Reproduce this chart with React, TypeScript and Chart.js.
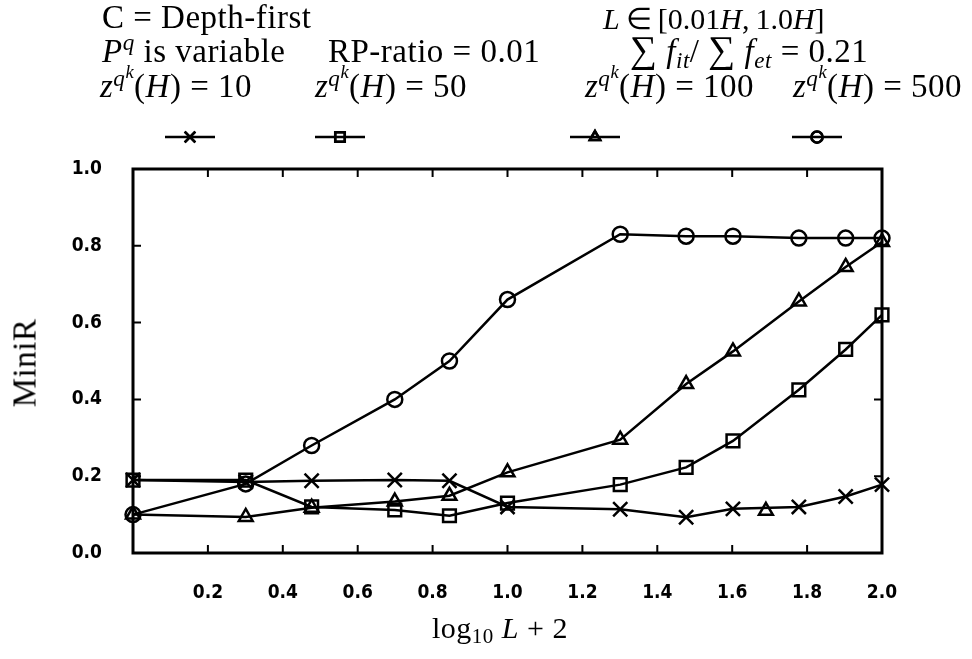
import React, { useEffect, useRef } from 'react';
import { Chart, registerables } from 'chart.js';
import { drawPoint } from 'chart.js/helpers';

Chart.register(...registerables);

// x positions: log10(L) + 2 for L = 0.01H ... 1.0H
const logL = [0, 0.301, 0.477, 0.699, 0.845, 1.0, 1.301, 1.477, 1.602, 1.778, 1.903, 2.0];

// MiniR for each z^{q^k}(H) setting
const miniR10 = [0.19, 0.185, 0.188, 0.19, 0.188, 0.12, 0.114, 0.093, 0.115, 0.12, 0.147, 0.178];
const miniR50 = [0.19, 0.19, 0.12, 0.112, 0.097, 0.13, 0.178, 0.223, 0.292, 0.425, 0.53, 0.62];
const miniR100 = [0.1, 0.094, 0.118, 0.134, 0.149, 0.21, 0.295, 0.44, 0.525, 0.655, 0.745, 0.81];
const miniR500 = [0.1, 0.18, 0.28, 0.4, 0.5, 0.66, 0.83, 0.825, 0.825, 0.82, 0.82, 0.82];

// lone triangle mark sitting on the z = 10 curve
const strayX = [1.69];
const strayY = [0.11];

const yTicks = [0, 0.2, 0.4, 0.6, 0.8, 1.0];
const xTicks = [0.2, 0.4, 0.6, 0.8, 1.0, 1.2, 1.4, 1.6, 1.8, 2.0];

const pts = (xs: number[], ys: number[]) => xs.map((x, i) => ({ x, y: ys[i] }));

const markerSpecs = [
  { style: 'crossRot', radius: 10 },
  { style: 'rect', radius: 9 },
  { style: 'triangle', radius: 8 },
  { style: 'circle', radius: 7.5 },
];

// legend sample positions (canvas px)
const legendX = [190, 340, 595, 817];
const legendY = 137;
const legendHalf = 25;

const tickFont = '"Liberation Sans Narrow", "DejaVu Sans Condensed", "DejaVu Sans", sans-serif';

const framePlugin = {
  id: 'frame',
  afterDraw(chart: any) {
    const { ctx, chartArea: a, scales } = chart;
    const xs = scales.x;
    const ys = scales.y;
    ctx.save();
    ctx.strokeStyle = '#000';
    ctx.lineWidth = 3;
    ctx.strokeRect(a.left, a.top, a.right - a.left, a.bottom - a.top);
    ctx.lineWidth = 2;
    const t = 8;
    ctx.beginPath();
    for (const v of xTicks) {
      if (v >= 2) continue;
      const px = xs.getPixelForValue(v);
      ctx.moveTo(px, a.bottom);
      ctx.lineTo(px, a.bottom - t);
      ctx.moveTo(px, a.top);
      ctx.lineTo(px, a.top + t);
    }
    for (const v of yTicks) {
      if (v <= 0 || v >= 1) continue;
      const py = ys.getPixelForValue(v);
      ctx.moveTo(a.left, py);
      ctx.lineTo(a.left + t, py);
      ctx.moveTo(a.right, py);
      ctx.lineTo(a.right - t, py);
    }
    ctx.stroke();

    // legend samples
    ctx.lineWidth = 2.5;
    markerSpecs.forEach((m, i) => {
      const cx = legendX[i];
      ctx.beginPath();
      ctx.moveTo(cx - legendHalf, legendY);
      ctx.lineTo(cx + legendHalf, legendY);
      ctx.stroke();
      drawPoint(ctx, { pointStyle: m.style, radius: m.radius * 0.75, rotation: 0, borderWidth: 2.5 } as any, cx, legendY);
      ctx.stroke();
    });
    ctx.restore();
  },
};

const serif = '"Liberation Serif", "Times New Roman", serif';
const headSize = 33;

function T({ x, base, size = headSize, spacing = 0.5, children }: { x: number; base: number; size?: number; spacing?: number; children: React.ReactNode }) {
  return (
    <div
      style={{
        position: 'absolute',
        left: x,
        top: base - size * 0.8375,
        fontFamily: serif,
        fontSize: size,
        letterSpacing: spacing,
        lineHeight: 1,
        whiteSpace: 'nowrap',
        color: '#000',
      }}
    >
      {children}
    </div>
  );
}

const supS: React.CSSProperties = { fontSize: '0.7em', verticalAlign: '0.5em', lineHeight: 0 };
const subS: React.CSSProperties = { fontSize: '0.7em', verticalAlign: '-0.25em', lineHeight: 0 };
const sumS: React.CSSProperties = { fontSize: '1.15em', lineHeight: 0 };

function Z({ v }: { v: string }) {
  return (
    <>
      <i>z</i>
      <sup style={supS}>
        <i>q</i>
        <sup style={{ fontSize: '0.8em', verticalAlign: '0.45em', lineHeight: 0 }}>
          <i>k</i>
        </sup>
      </sup>
      (<i>H</i>) = {v}
    </>
  );
}

export default function App() {
  const ref = useRef<HTMLCanvasElement | null>(null);

  useEffect(() => {
    if (!ref.current) return;
    const common = {
      borderColor: '#000',
      borderWidth: 2.5,
      pointBorderColor: '#000',
      pointBackgroundColor: 'rgba(0,0,0,0)',
      pointBorderWidth: 2.5,
      showLine: true,
      tension: 0,
      clip: false as any,
    };
    const chart = new Chart(ref.current, {
      type: 'scatter',
      data: {
        datasets: [
          { ...common, label: 'z(H) = 10', data: pts(logL, miniR10), pointStyle: 'crossRot', pointRadius: markerSpecs[0].radius },
          { ...common, label: 'z(H) = 50', data: pts(logL, miniR50), pointStyle: 'rect', pointRadius: markerSpecs[1].radius },
          { ...common, label: 'z(H) = 100', data: pts(logL, miniR100), pointStyle: 'triangle', pointRadius: markerSpecs[2].radius },
          { ...common, label: 'z(H) = 500', data: pts(logL, miniR500), pointStyle: 'circle', pointRadius: markerSpecs[3].radius },
          { ...common, label: 'extra', data: pts(strayX, strayY), showLine: false, pointStyle: 'triangle', pointRadius: markerSpecs[2].radius },
        ],
      },
      options: {
        animation: false,
        responsive: false,
        devicePixelRatio: 1,
        layout: { padding: { left: 0, right: 90, top: 169, bottom: 0 } },
        plugins: { legend: { display: false }, tooltip: { enabled: false } },
        scales: {
          x: {
            type: 'linear',
            min: 0,
            max: 2,
            grid: { display: false, drawTicks: false },
            border: { display: false },
            afterFit: (s: any) => {
              s.height = 106;
            },
            afterBuildTicks: (s: any) => {
              s.ticks = [0, ...xTicks].map((v) => ({ value: v }));
            },
            ticks: {
              padding: 29,
              autoSkip: false,
              maxRotation: 0,
              color: '#000',
              font: { family: tickFont, weight: 'bold', size: 19 },
              callback: (v: any) => (Number(v) === 0 ? '' : Number(v).toFixed(1)),
            },
          },
          y: {
            type: 'linear',
            min: 0,
            max: 1,
            grid: { display: false, drawTicks: false },
            border: { display: false },
            afterFit: (s: any) => {
              s.width = 133;
            },
            afterBuildTicks: (s: any) => {
              s.ticks = yTicks.map((v) => ({ value: v }));
            },
            ticks: {
              padding: 31,
              color: '#000',
              font: { family: tickFont, weight: 'bold', size: 19 },
              callback: (v: any) => Number(v).toFixed(1),
            },
          },
        },
      },
      plugins: [framePlugin],
    });
    return () => chart.destroy();
  }, []);

  return (
    <div style={{ position: 'fixed', left: 0, top: 0, width: 972, height: 659, background: '#fff', overflow: 'hidden' }}>
      <canvas ref={ref} width={972} height={659} style={{ position: 'absolute', left: 0, top: 0 }} />
      <T x={102} base={29}>C = Depth-first</T>
      <T x={603} base={29} size={30} spacing={0}>
        <i>L</i>{'\u2009'}∈{'\u2009'}[0.01<i>H</i>,{'\u2009'}1.0<i>H</i>]
      </T>
      <T x={102} base={63}>
        <i>P</i>
        <sup style={supS}>
          <i>q</i>
        </sup>{' '}
        is variable
      </T>
      <T x={328} base={63}>RP-ratio = 0.01</T>
      <T x={630} base={63}>
        <span style={sumS}>∑</span> <i>f</i>
        <sub style={subS}>
          <i>it</i>
        </sub>
        / <span style={sumS}>∑</span> <i>f</i>
        <sub style={subS}>
          <i>et</i>
        </sub>{' '}
        = 0.21
      </T>
      <T x={100} base={98}>
        <Z v="10" />
      </T>
      <T x={315} base={98}>
        <Z v="50" />
      </T>
      <T x={585} base={98}>
        <Z v="100" />
      </T>
      <T x={793} base={98}>
        <Z v="500" />
      </T>
      <div
        style={{
          position: 'absolute',
          left: 25,
          top: 363,
          transform: 'translate(-50%, -50%) rotate(-90deg)',
          fontFamily: serif,
          fontSize: 33,
          letterSpacing: 0.5,
          lineHeight: 1,
          whiteSpace: 'nowrap',
        }}
      >
        MiniR
      </div>
      <div
        style={{
          position: 'absolute',
          left: 500,
          top: 628,
          transform: 'translate(-50%, -50%)',
          fontFamily: serif,
          fontSize: 30,
          letterSpacing: 0.5,
          lineHeight: 1,
          whiteSpace: 'nowrap',
        }}
      >
        log
        <sub style={subS}>10</sub> <i>L</i> + 2
      </div>
    </div>
  );
}
